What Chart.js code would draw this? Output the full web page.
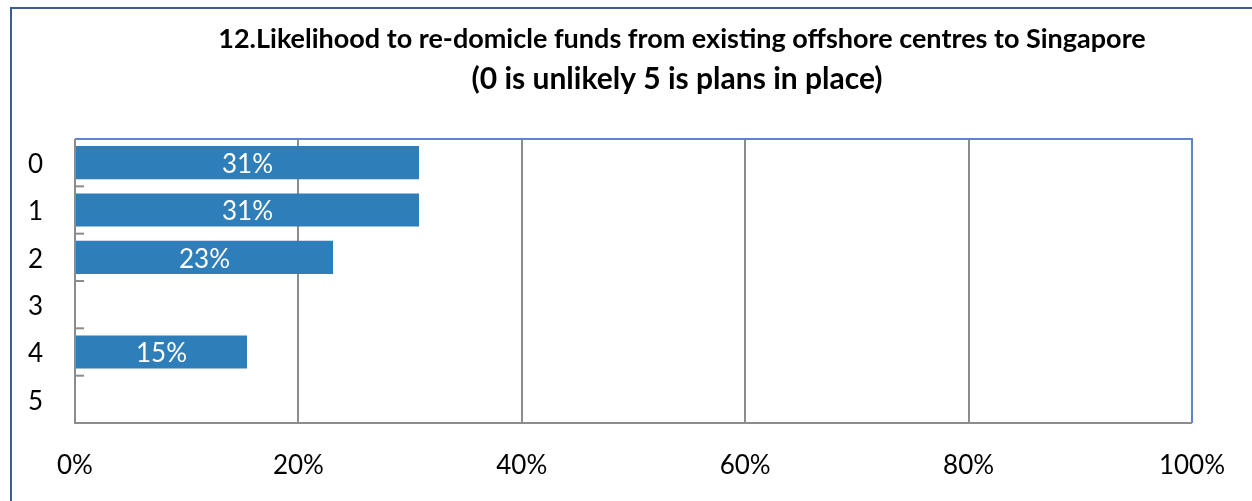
<!DOCTYPE html>
<html>
<head>
<meta charset="utf-8">
<script src="https://cdn.jsdelivr.net/npm/chart.js@4/dist/chart.umd.min.js"></script>
<style>
  html, body { margin: 0; padding: 0; background: #fff; }
  #wrap { width: 1252px; height: 501px; }
</style>
</head>
<body>
<div id="wrap"><canvas id="likelihoodChart" width="1252" height="501"></canvas></div>
<script>
// data
var categories = ['0', '1', '2', '3', '4', '5'];
var shares = [0.308, 0.308, 0.231, 0, 0.154, 0];
var xTicks = [0, 0.2, 0.4, 0.6, 0.8, 1];
var titleLines = ['12.Likelihood to re-domicle funds from existing offshore centres to Singapore',
                  '(0 is unlikely 5 is plans in place)'];

var BAR_BLUE = '#2e7eb9';
var GRID_GREY = '#8c8c8c';
var FRAME_BLUE = '#5b87c6';

// outer frame, title and plot frame
var framePlugin = {
    id: 'frame',
    beforeDraw: function(chart) {
        var ctx = chart.ctx;
        ctx.save();
        ctx.strokeStyle = '#3c5f92';
        ctx.lineWidth = 2;
        ctx.beginPath();
        ctx.moveTo(11, 501);
        ctx.lineTo(11, 8);
        ctx.lineTo(1252, 8);
        ctx.stroke();

        ctx.fillStyle = '#000';
        ctx.textAlign = 'center';
        ctx.textBaseline = 'alphabetic';
        ctx.font = 'bold 27px Lato';
        ctx.fillText(titleLines[0], 682, 48);
        ctx.font = 'bold 30px Lato';
        ctx.fillText(titleLines[1], 677, 89);
        ctx.restore();
    },
    afterDraw: function(chart) {
        var ctx = chart.ctx;
        var a = chart.chartArea;
        var y = chart.scales.y;
        ctx.save();
        // top + right in blue
        ctx.strokeStyle = FRAME_BLUE;
        ctx.lineWidth = 2;
        ctx.beginPath();
        ctx.moveTo(a.left, a.top);
        ctx.lineTo(a.right, a.top);
        ctx.lineTo(a.right, a.bottom);
        ctx.stroke();
        // axes in grey
        ctx.strokeStyle = GRID_GREY;
        ctx.lineWidth = 2;
        ctx.beginPath();
        ctx.moveTo(a.left, a.top);
        ctx.lineTo(a.left, a.bottom);
        ctx.lineTo(a.right, a.bottom);
        ctx.stroke();
        // little inward ticks between categories
        for (var i = 1; i < categories.length; i++) {
            var py = (y.getPixelForValue(i - 1) + y.getPixelForValue(i)) / 2;
            ctx.beginPath();
            ctx.moveTo(a.left, py);
            ctx.lineTo(a.left + 9, py);
            ctx.stroke();
        }
        // value labels inside bars
        var meta = chart.getDatasetMeta(0);
        ctx.fillStyle = '#fff';
        ctx.font = '26px Lato';
        ctx.textAlign = 'center';
        ctx.textBaseline = 'middle';
        meta.data.forEach(function(bar, idx) {
            var v = shares[idx];
            if (!v) return;
            ctx.fillText(Math.round(v * 100) + '%', (bar.base + bar.x) / 2, bar.y + 2);
        });
        ctx.restore();
    }
};

var ctx = document.getElementById('likelihoodChart').getContext('2d');
var chart = new Chart(ctx, {
    type: 'bar',
    data: {
        labels: categories,
        datasets: [{
            data: shares,
            backgroundColor: BAR_BLUE,
            borderWidth: 0,
            barPercentage: 0.7,
            categoryPercentage: 1.0
        }]
    },
    options: {
        indexAxis: 'y',
        responsive: false,
        animation: false,
        layout: { padding: { top: 139, right: 59, left: 0, bottom: 0 } },
        plugins: {
            legend: { display: false },
            title: { display: false },
            tooltip: { enabled: false }
        },
        scales: {
            x: {
                min: 0,
                max: 1,
                afterBuildTicks: function(scale) {
                    scale.ticks = xTicks.map(function(v) { return { value: v }; });
                },
                ticks: {
                    color: '#000',
                    font: { family: 'Lato', size: 26 },
                    padding: 27,
                    maxRotation: 0,
                    callback: function(v) { return Math.round(v * 100) + '%'; }
                },
                grid: { color: GRID_GREY, lineWidth: 2, drawTicks: false },
                border: { display: false },
                afterFit: function(scale) { scale.height = 78; }
            },
            y: {
                ticks: {
                    color: '#000',
                    font: { family: 'Lato', size: 26 },
                    padding: 24,
                    labelOffset: 2
                },
                grid: { display: false },
                border: { display: false },
                afterFit: function(scale) { scale.width = 75; }
            }
        }
    },
    plugins: [framePlugin]
});
</script>
</body>
</html>
